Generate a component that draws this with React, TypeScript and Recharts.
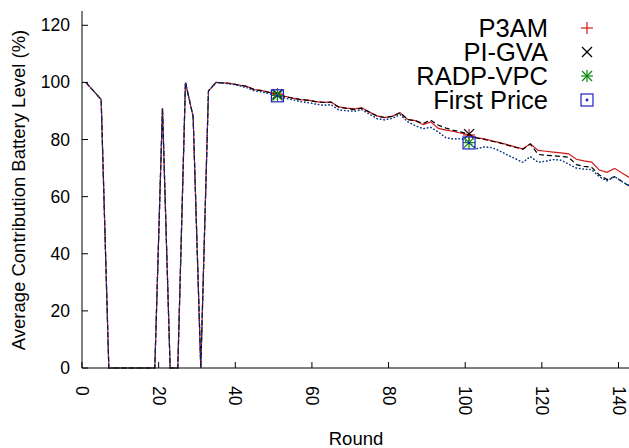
import React from 'react';
import { LineChart, Line, XAxis, YAxis } from 'recharts';

// x positions (round numbers)
const rounds = [
  1, 3, 5, 7, 9, 11, 13, 15, 17, 19, 21, 23, 25, 27, 29, 31, 33, 35,
  37, 39, 41, 43, 45, 47, 49, 51, 53, 55, 57, 59, 61, 63, 65, 67, 69, 71,
  73, 75, 77, 79, 81, 83, 85, 87, 89, 91, 93, 95, 97, 99, 101, 103, 105, 107,
  109, 111, 113, 115, 117, 119, 121, 123, 125, 127, 129, 131, 133, 135, 137, 139,
  141, 143,
];

// first rounds, identical for every mechanism
const warmup = [100, 97, 94, 0, 0, 0, 0, 0, 0, 0, 91, 0, 0, 100, 88, 0, 97, 100];

const p3am = [
  ...warmup,
  99.8, 99.6, 99.1, 98.6, 97.5, 97.1, 96.5, 95.9, 95.1, 94.5, 94.0, 93.8, 93.3, 93.0, 93.1, 91.4, 91.0, 90.7,
  91.1, 89.6, 88.3, 87.7, 88.2, 89.4, 87.0, 86.6, 85.2, 86.2, 83.9, 83.3, 82.8, 82.2, 81.6, 80.6, 80.2, 79.5,
  78.9, 78.2, 77.4, 76.7, 78.5, 76.2, 75.9, 75.6, 75.3, 75.0, 73.1, 72.5, 72.1, 69.3, 68.5, 69.9, 68.2, 66.6,
];

const piGva = [
  ...warmup,
  99.8, 99.6, 99.0, 98.6, 97.4, 97.1, 96.4, 95.9, 95.0, 94.5, 94.0, 93.7, 93.3, 93.0, 93.1, 91.3, 90.9, 90.5,
  91.0, 89.6, 88.2, 87.7, 88.1, 89.4, 87.0, 86.6, 85.6, 86.8, 85.0, 84.0, 83.2, 82.6, 81.9, 80.6, 80.0, 79.4,
  78.8, 78.0, 77.3, 76.6, 78.4, 74.8, 74.5, 74.3, 74.1, 73.8, 71.2, 70.6, 70.3, 67.6, 66.0, 67.0, 65.2, 63.6,
];

const radpVpc = [
  ...warmup,
  99.7, 99.4, 98.8, 98.2, 97.0, 96.6, 96.0, 95.4, 94.5, 93.9, 93.3, 93.0, 92.4, 92.0, 92.2, 90.4, 90.1, 89.9,
  90.5, 88.9, 87.3, 86.9, 87.4, 88.8, 86.2, 84.8, 83.8, 84.2, 82.6, 80.6, 80.2, 80.3, 78.9, 76.8, 77.4, 77.2,
  76.0, 74.6, 73.4, 72.0, 74.0, 72.1, 72.4, 73.0, 72.8, 71.4, 70.0, 69.6, 69.5, 67.0, 65.5, 67.0, 65.2, 63.8,
];

const firstPrice = [
  ...warmup,
  99.7, 99.4, 98.8, 98.2, 97.0, 96.6, 96.0, 95.3, 94.5, 93.9, 93.3, 92.9, 92.4, 92.0, 92.2, 90.3, 90.1, 89.9,
  90.4, 88.9, 87.3, 86.9, 87.4, 88.7, 86.2, 84.8, 83.8, 84.3, 82.6, 80.6, 80.2, 80.3, 78.8, 76.8, 77.4, 77.1,
  76.0, 74.6, 73.3, 72.0, 74.0, 72.0, 72.4, 73.0, 72.7, 71.4, 70.0, 69.6, 69.4, 67.0, 65.5, 67.0, 65.1, 63.7,
];

const xTicks = [0, 20, 40, 60, 80, 100, 120, 140];
const yTicks = [0, 20, 40, 60, 80, 100, 120];
const markerRounds = [51, 101];

const FONT = '"Liberation Sans", Arial, Helvetica, sans-serif';

const data = rounds.map((r, i) => ({
  round: r,
  p3am: p3am[i],
  piGva: piGva[i],
  radpVpc: radpVpc[i],
  firstPrice: firstPrice[i],
}));

// gnuplot-style point symbols
const Symbol = ({ kind, x, y }: { kind: string; x: number; y: number }) => {
  if (kind === 'plus') {
    return (
      <g stroke="#d01818" strokeWidth={1.2}>
        <line x1={x - 6} y1={y} x2={x + 6} y2={y} />
        <line x1={x} y1={y - 6} x2={x} y2={y + 6} />
      </g>
    );
  }
  if (kind === 'cross') {
    return (
      <g stroke="#000" strokeWidth={1.2}>
        <line x1={x - 5} y1={y - 5} x2={x + 5} y2={y + 5} />
        <line x1={x - 5} y1={y + 5} x2={x + 5} y2={y - 5} />
      </g>
    );
  }
  if (kind === 'star') {
    return (
      <g stroke="#0a8a0a" strokeWidth={1.2}>
        <line x1={x - 6} y1={y} x2={x + 6} y2={y} />
        <line x1={x} y1={y - 6} x2={x} y2={y + 6} />
        <line x1={x - 5} y1={y - 5} x2={x + 5} y2={y + 5} />
        <line x1={x - 5} y1={y + 5} x2={x + 5} y2={y - 5} />
      </g>
    );
  }
  return (
    <g stroke="#1f1fc8" strokeWidth={1.2}>
      <rect x={x - 6} y={y - 6} width={12} height={12} fill="none" />
      <circle cx={x} cy={y} r={0.8} fill="#1f1fc8" />
    </g>
  );
};

const markerDot = (kind: string) => (props: any) => {
  const { cx, cy, payload, index } = props;
  if (!markerRounds.includes(payload.round)) return <g key={`d-${kind}-${index}`} />;
  return (
    <g key={`d-${kind}-${index}`}>
      <Symbol kind={kind} x={cx} y={cy} />
    </g>
  );
};

const BottomTick = (props: any) => {
  const { x, y, payload } = props;
  return (
    <g>
      <line x1={x} y1={y} x2={x} y2={y - 6} stroke="#000" />
      <text
        transform={`translate(${x},${y + 18}) rotate(90)`}
        textAnchor="start"
        dominantBaseline="central"
        fontSize={17.5}
        fontFamily={FONT}
        fill="#000"
      >
        {payload.value}
      </text>
    </g>
  );
};

const TopTick = (props: any) => {
  const { x, y } = props;
  return <line x1={x} y1={y} x2={x} y2={y + 6} stroke="#000" />;
};

const LeftTick = (props: any) => {
  const { x, y, payload } = props;
  return (
    <g>
      <line x1={x} y1={y} x2={x + 6} y2={y} stroke="#000" />
      <text
        x={x - 12}
        y={y}
        textAnchor="end"
        dominantBaseline="central"
        fontSize={17.5}
        fontFamily={FONT}
        fill="#000"
      >
        {payload.value}
      </text>
    </g>
  );
};

const RightTick = (props: any) => {
  const { x, y } = props;
  return <line x1={x} y1={y} x2={x - 6} y2={y} stroke="#000" />;
};

const legendRows = [
  { name: 'P3AM', kind: 'plus' },
  { name: 'PI-GVA', kind: 'cross' },
  { name: 'RADP-VPC', kind: 'star' },
  { name: 'First Price', kind: 'square' },
];

export default function App() {
  return (
    <div
      style={{
        position: 'absolute',
        left: 0,
        top: 0,
        width: 629,
        height: 448,
        overflow: 'hidden',
        background: '#fff',
      }}
    >
      <LineChart
        width={640}
        height={448}
        data={data}
        margin={{ top: 11, right: 10, bottom: 50, left: 0 }}
      >
        <XAxis
          xAxisId="b"
          dataKey="round"
          type="number"
          domain={[0, 143]}
          ticks={xTicks}
          interval={0}
          height={30}
          tickSize={0}
          tickMargin={0}
          tickLine={false}
          axisLine={{ stroke: '#000' }}
          tick={<BottomTick />}
        />
        <XAxis
          xAxisId="t"
          orientation="top"
          dataKey="round"
          type="number"
          domain={[0, 143]}
          ticks={xTicks}
          interval={0}
          height={0}
          tickSize={0}
          tickMargin={0}
          tickLine={false}
          axisLine={{ stroke: '#000' }}
          tick={<TopTick />}
        />
        <YAxis
          yAxisId="l"
          type="number"
          domain={[0, 125]}
          ticks={yTicks}
          interval={0}
          width={82}
          tickSize={0}
          tickMargin={0}
          tickLine={false}
          axisLine={{ stroke: '#000' }}
          tick={<LeftTick />}
        />
        <YAxis
          yAxisId="r"
          orientation="right"
          type="number"
          domain={[0, 125]}
          ticks={yTicks}
          interval={0}
          width={0}
          tickSize={0}
          tickMargin={0}
          tickLine={false}
          axisLine={{ stroke: '#000' }}
          tick={<RightTick />}
        />
        <Line
          xAxisId="b"
          yAxisId="l"
          type="linear"
          dataKey="p3am"
          stroke="#d01818"
          strokeWidth={1.2}
          dot={markerDot('plus')}
          activeDot={false}
          isAnimationActive={false}
        />
        <Line
          xAxisId="b"
          yAxisId="l"
          type="linear"
          dataKey="piGva"
          stroke="#000"
          strokeWidth={1.2}
          strokeDasharray="5 3"
          dot={markerDot('cross')}
          activeDot={false}
          isAnimationActive={false}
        />
        <Line
          xAxisId="b"
          yAxisId="l"
          type="linear"
          dataKey="radpVpc"
          stroke="#0a8a0a"
          strokeWidth={1.2}
          strokeDasharray="1.5 2"
          dot={markerDot('star')}
          activeDot={false}
          isAnimationActive={false}
        />
        <Line
          xAxisId="b"
          yAxisId="l"
          type="linear"
          dataKey="firstPrice"
          stroke="#1f1fc8"
          strokeWidth={1.2}
          strokeDasharray="1.5 2"
          dot={markerDot('square')}
          activeDot={false}
          isAnimationActive={false}
        />
      </LineChart>

      {/* axis titles and key, gnuplot style */}
      <svg
        width={629}
        height={448}
        style={{ position: 'absolute', left: 0, top: 0, pointerEvents: 'none' }}
        fontFamily={FONT}
      >
        <text
          transform="translate(18,190) rotate(-90)"
          textAnchor="middle"
          dominantBaseline="central"
          fontSize={18.5}
          fill="#000"
        >
          Average Contribution Battery Level (%)
        </text>
        <text x={356} y={445} textAnchor="middle" fontSize={18.5} fill="#000">
          Round
        </text>
        {legendRows.map((row, i) => (
          <g key={row.name}>
            <text x={548} y={37 + i * 24} textAnchor="end" fontSize={25.5} fill="#000">
              {row.name}
            </text>
            <Symbol kind={row.kind} x={587} y={28 + i * 24} />
          </g>
        ))}
      </svg>
    </div>
  );
}
